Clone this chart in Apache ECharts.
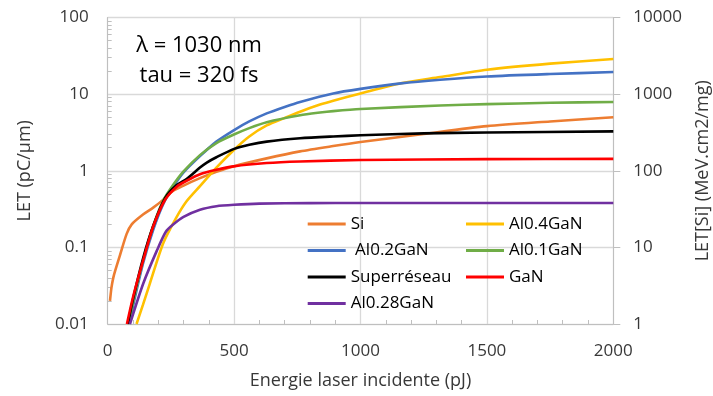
<!DOCTYPE html>
<html>
<head>
<meta charset="utf-8">
<script src="https://cdn.jsdelivr.net/npm/echarts@6/dist/echarts.min.js"></script>
<style>
html,body{margin:0;padding:0;background:#fff;}
#chart{width:713px;height:396px;}
</style>
</head>
<body>
<div id="chart"></div>
<script>
// ---- data ----
var siE = [9, 15, 22, 30, 49, 75, 95, 141, 180, 220, 253, 300, 365, 430, 497, 629, 761, 892, 1000, 1250, 1500, 1750, 2000];
var siV = [0.02, 0.03, 0.04, 0.05, 0.08, 0.15, 0.2, 0.27, 0.33, 0.42, 0.53, 0.64, 0.8, 0.97, 1.14, 1.45, 1.79, 2.1, 2.37, 3.02, 3.82, 4.4, 5.0];

var al04E = [114, 140, 167, 220, 273, 312, 365, 430, 500, 560, 629, 700, 761, 840, 892, 1000, 1160, 1315, 1500, 1750, 2000];
var al04V = [0.01, 0.018, 0.034, 0.114, 0.25, 0.4, 0.63, 1.1, 1.88, 2.8, 3.9, 4.9, 5.9, 7.3, 8.2, 10.2, 13.9, 16.7, 20.8, 25, 28.7];

var al02E = [86, 100, 140, 180, 220, 260, 300, 365, 430, 500, 560, 629, 700, 761, 892, 1000, 1160, 1315, 1500, 1750, 2000];
var al02V = [0.01, 0.017, 0.062, 0.17, 0.37, 0.62, 0.95, 1.55, 2.4, 3.4, 4.4, 5.6, 6.8, 7.9, 10.2, 11.7, 13.8, 15.4, 17.0, 18.3, 19.4];

var al01E = [82, 100, 140, 180, 220, 260, 300, 365, 430, 497, 560, 629, 761, 840, 892, 1000, 1315, 1500, 1750, 2000];
var al01V = [0.01, 0.019, 0.068, 0.19, 0.41, 0.66, 0.98, 1.6, 2.3, 2.95, 3.6, 4.3, 5.3, 5.75, 6.0, 6.4, 7.1, 7.4, 7.7, 7.9];

var slE = [80, 100, 140, 180, 227, 273, 312, 365, 392, 430, 500, 560, 629, 761, 892, 1000, 1250, 1500, 2000];
var slV = [0.01, 0.021, 0.072, 0.19, 0.44, 0.65, 0.78, 1.1, 1.28, 1.5, 1.93, 2.18, 2.4, 2.65, 2.8, 2.9, 3.07, 3.16, 3.26];

var ganE = [76, 101, 141, 180, 227, 273, 312, 365, 430, 497, 629, 761, 1000, 1500, 2000];
var ganV = [0.01, 0.023, 0.069, 0.187, 0.418, 0.62, 0.74, 0.9, 1.03, 1.14, 1.26, 1.32, 1.38, 1.42, 1.43];

var al028E = [88, 141, 194, 230, 260, 300, 365, 430, 500, 600, 800, 1000, 2000];
var al028V = [0.01, 0.034, 0.09, 0.16, 0.2, 0.25, 0.31, 0.345, 0.36, 0.372, 0.378, 0.379, 0.379];

var seriesNames = ['Si', 'Al0.4GaN', ' Al0.2GaN', 'Al0.1GaN', 'Superréseau', 'GaN', 'Al0.28GaN'];
var xTicks = [0, 500, 1000, 1500, 2000];
var leftTicks = [0.01, 0.1, 1, 10, 100];
var rightTicks = [1, 10, 100, 1000, 10000];
var titleLines = ['λ = 1030 nm', 'tau = 320 fs'];

function zip(e, v) { return e.map(function (x, i) { return [x, v[i]]; }); }

var seriesData = [zip(siE, siV), zip(al04E, al04V), zip(al02E, al02V), zip(al01E, al01V),
                  zip(slE, slV), zip(ganE, ganV), zip(al028E, al028V)];
var colors = ['#ED7D31', '#FFC000', '#4472C4', '#70AD47', '#000000', '#FF0000', '#7030A0'];

var FONT = 'Open Sans';
var LABEL = '#383838';
var chart = echarts.init(document.getElementById('chart'), null, {renderer: 'canvas'});

var series = seriesNames.map(function (n, i) {
  return {
    name: n, type: 'line', data: seriesData[i], yAxisIndex: 0,
    showSymbol: false, symbol: 'none', smooth: 0.25, clip: true,
    lineStyle: {width: 2.6, color: colors[i]}, itemStyle: {color: colors[i]},
    z: 2 + i
  };
});

var legendBase = {
  orient: 'vertical', itemWidth: 38, itemHeight: 3, icon: 'rect', itemGap: 8.5,
  textStyle: {fontFamily: FONT, fontSize: 17, color: '#000', lineHeight: 18},
  selectedMode: false
};

var option = {
  animation: false,
  backgroundColor: '#fff',
  color: colors,
  title: {
    text: titleLines.join('\n'),
    left: 194, top: 26, textAlign: 'center',
    textStyle: {fontFamily: FONT, fontSize: 22, fontWeight: 'normal', color: '#000', lineHeight: 30, align: 'center'}
  },
  grid: {left: 107.7, right: 99.7, top: 17.5, bottom: 72, containLabel: false, outerBoundsMode: 'none'},
  legend: [
    Object.assign({}, legendBase, {left: 302.7, top: 210, data: [seriesNames[0], seriesNames[2], seriesNames[4], seriesNames[6]]}),
    Object.assign({}, legendBase, {left: 461, top: 210, data: [seriesNames[1], seriesNames[3], seriesNames[5]]})
  ],
  xAxis: {
    type: 'value', min: xTicks[0], max: xTicks[xTicks.length - 1], interval: 500,
    name: 'Energie laser incidente (pJ)', nameLocation: 'middle', nameGap: 48,
    nameTextStyle: {fontFamily: FONT, fontSize: 18, color: LABEL},
    axisLine: {show: true, lineStyle: {color: '#BFBFBF', width: 1}},
    axisTick: {show: false, inside: true},
    minorTick: {show: true, splitNumber: 5, length: 4, lineStyle: {color: '#BFBFBF'}},
    axisLabel: {fontFamily: FONT, fontSize: 17, color: LABEL, margin: 19,
      formatter: function (v) { return String(v); }},
    splitLine: {show: true, lineStyle: {color: '#D9D9D9', width: 1.3}}
  },
  yAxis: [
    {
      type: 'log', logBase: 10, min: leftTicks[0], max: leftTicks[leftTicks.length - 1],
      position: 'left',
      name: 'LET (pC/μm)', nameLocation: 'middle', nameGap: 74,
      nameTextStyle: {fontFamily: FONT, fontSize: 18, color: LABEL},
      axisLine: {show: true, lineStyle: {color: '#BFBFBF', width: 1}},
      axisTick: {show: false, inside: true},
      minorTick: {show: true, splitNumber: 9, length: 4, lineStyle: {color: '#BFBFBF'}},
      axisLabel: {fontFamily: FONT, fontSize: 17, color: LABEL, margin: 19,
        formatter: function (v) { return String(v); }},
      splitLine: {show: true, lineStyle: {color: '#D9D9D9', width: 1.3}}
    },
    {
      type: 'log', logBase: 10, min: rightTicks[0], max: rightTicks[rightTicks.length - 1],
      position: 'right',
      name: 'LET[Si] (MeV.cm2/mg)', nameLocation: 'middle', nameGap: 81, nameRotate: 90,
      nameTextStyle: {fontFamily: FONT, fontSize: 18, color: LABEL, padding: [0, 0, 12, 0]},
      axisLine: {show: true, lineStyle: {color: '#BFBFBF', width: 1}},
      axisTick: {show: true, inside: false, length: 7, lineStyle: {color: '#BFBFBF'}},
      axisLabel: {fontFamily: FONT, fontSize: 17, color: LABEL, margin: 20,
        formatter: function (v) { return String(v); }},
      splitLine: {show: false}
    }
  ],
  series: series
};
chart.setOption(option);
</script>
</body>
</html>
